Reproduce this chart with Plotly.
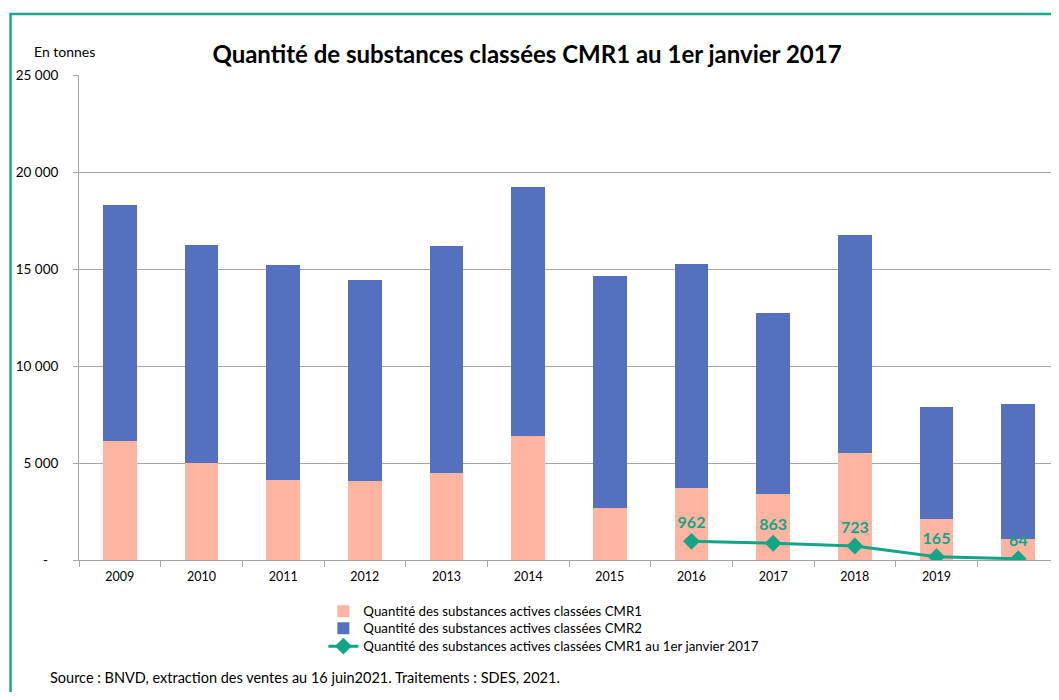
import plotly.graph_objs as go

# categories (last bar has no year label in the source)
years = ["2009", "2010", "2011", "2012", "2013", "2014", "2015",
         "2016", "2017", "2018", "2019", " "]

cmr1 = [6130, 5000, 4120, 4070, 4480, 6390, 2680, 3710, 3390, 5530, 2100, 1080]
cmr_total = [18300, 16240, 15210, 14430, 16190, 19230, 14640, 15260, 12730, 16750, 7890, 8040]
cmr2 = [t - a for t, a in zip(cmr_total, cmr1)]

line_years = ["2016", "2017", "2018", "2019", " "]
cmr1_2017 = [962, 863, 723, 165, 64]

y_ticks = [0, 5000, 10000, 15000, 20000, 25000]
y_ticktext = ["-\u00a0\u00a0\u00a0", "5 000", "10 000", "15 000", "20 000", "25 000"]

FONT = "Lato"
GREEN = "#13A585"
GRID = "#A6A6A6"

# the page body adds an 8px offset, so positions below are read from the
# reference and shifted by OFF
OFF = 8
W, H = 1059 - 2 * OFF, 700 - 2 * OFF
L, T = 78.5 - OFF, 75 - OFF
B = H - (560 - OFF)
R = 0
pw, ph = W - L - R, H - T - B
cat_w = (1059 - 78.5) / 12


def px_x(x):
    return (x - OFF - L) / pw


def px_y(y):
    return (H - B - (y - OFF)) / ph


fig = go.Figure()

fig.add_trace(go.Bar(
    x=years, y=cmr1, name="Quantité des substances actives classées CMR1",
    marker=dict(color="#FDB5A2", line=dict(width=0)),
    legend="legend",
))
fig.add_trace(go.Bar(
    x=years, y=cmr2, name="Quantité des substances actives classées CMR2",
    marker=dict(color="#5570BE", line=dict(width=0)),
    legend="legend2",
))
fig.add_trace(go.Scatter(
    x=line_years, y=cmr1_2017,
    name="Quantité des substances actives classées CMR1 au 1er janvier 2017",
    mode="lines+markers+text",
    line=dict(color=GREEN, width=3),
    marker=dict(symbol="diamond", size=13, color=GREEN),
    text=[str(v) for v in cmr1_2017],
    textposition="top center",
    textfont=dict(family=FONT, size=16, color=GREEN, weight="bold"),
    legend="legend3",
))


def legend_at(top):
    return dict(
        x=px_x(323), xanchor="left",
        y=px_y(top), yanchor="top",
        font=dict(family=FONT, size=13.3, color="#000000"),
        bgcolor="rgba(0,0,0,0)",
    )


fig.update_layout(
    width=W, height=H,
    barmode="stack",
    bargap=0.59,
    template="plotly_white",
    plot_bgcolor="white",
    paper_bgcolor="white",
    margin=dict(l=L, r=R, t=T, b=B, autoexpand=False),
    font=dict(family=FONT, size=12.5, color="#000000"),
    title=dict(
        text="<b>Quantité de substances classées CMR1 au 1er janvier 2017</b>",
        x=(527 - OFF) / W, xanchor="center", xref="container",
        y=1 - (55 - OFF) / H, yanchor="middle", yref="container",
        font=dict(family=FONT, size=24, color="#000000"),
    ),
    legend=legend_at(596),
    legend2=legend_at(613),
    legend3=legend_at(631),
    showlegend=True,
)

fig.update_yaxes(
    range=[0, 25000],
    tickvals=y_ticks, ticktext=y_ticktext,
    showgrid=True, gridcolor=GRID, gridwidth=1,
    showline=True, linecolor=GRID, linewidth=1,
    ticks="outside", ticklen=5, tickcolor=GRID,
    ticklabelstandoff=12,
    tickfont=dict(family=FONT, size=13.5),
    zeroline=False,
    automargin=False,
)
fig.update_xaxes(
    type="category",
    range=[-0.5, 11.5 - OFF / cat_w],
    showline=True, linecolor=GRID, linewidth=1,
    ticks="outside", ticklen=6, tickcolor=GRID,
    tickson="boundaries",
    ticklabelstandoff=5,
    showgrid=False,
    tickfont=dict(family=FONT, size=12.5),
    automargin=False,
)

fig.add_annotation(
    text="En tonnes", xref="paper", yref="paper",
    x=px_x(31), xanchor="left", y=px_y(52), yanchor="middle",
    showarrow=False, font=dict(family=FONT, size=14),
)
fig.add_annotation(
    text="Source : BNVD, extraction des ventes au 16 juin2021. Traitements : SDES, 2021.",
    xref="paper", yref="paper",
    x=px_x(47), xanchor="left", y=px_y(677), yanchor="middle",
    showarrow=False, font=dict(family=FONT, size=14.5),
)

# green frame around the chart
fig.add_shape(
    type="rect", xref="paper", yref="paper",
    x0=px_x(10), x1=px_x(1080), y0=px_y(720), y1=px_y(14),
    line=dict(color="#1BA98A", width=2.5), fillcolor="rgba(0,0,0,0)",
    layer="above",
)

fig.write_html("out.html")
